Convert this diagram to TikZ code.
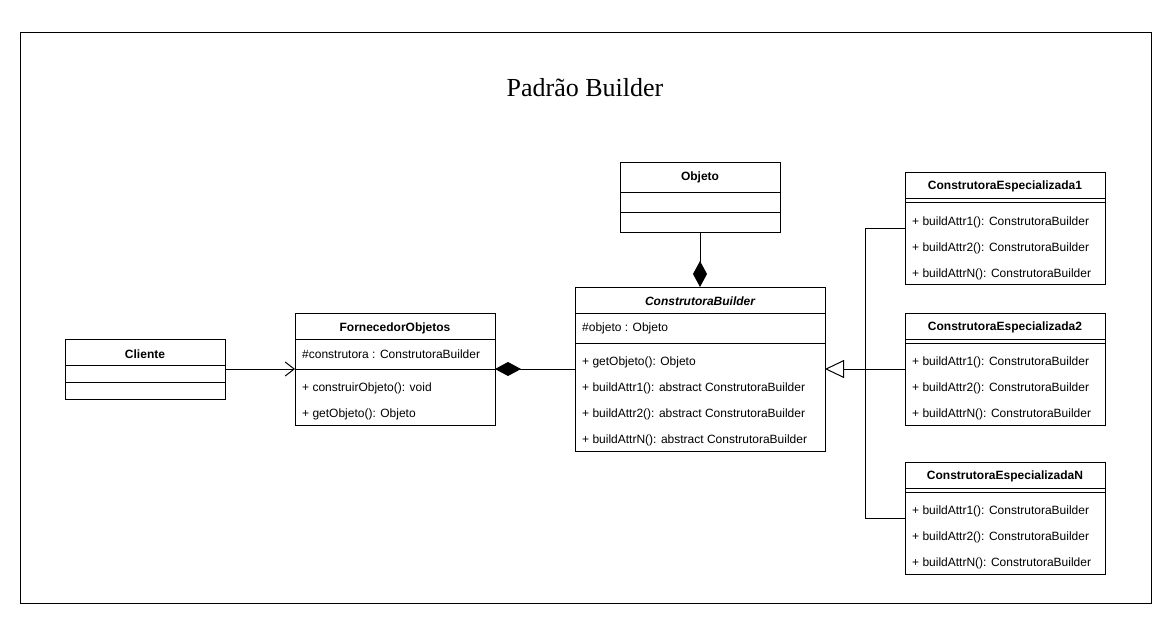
\documentclass[tikz,border=0pt]{standalone}
\usepackage{fontspec}
\setmainfont{Liberation Serif}
\newfontfamily\umlfont{Liberation Sans}
\usetikzlibrary{arrows.meta}
\begin{document}
\begin{tikzpicture}[x=1pt,y=-1pt,
  box/.style={draw, line width=1pt, inner sep=0pt, outer sep=0pt, fill=white},
  sepline/.style={line width=1pt},
  hdr/.style={font=\umlfont\bfseries\fontsize{12}{14}\selectfont, inner sep=0pt, yshift=-1.5pt},
  itm/.style={anchor=west, font=\umlfont\fontsize{12}{14}\selectfont, inner sep=0pt, yshift=-1.5pt},
  conn/.style={line width=1pt},
  comp/.style={conn, -{Diamond[fill=black, length=26pt, width=14pt]}},
  gen/.style={conn, -{Triangle[open, fill=white, length=19pt, width=18pt]}},
  assoc/.style={conn, -{Straight Barb[length=9pt, width=14pt]}}
]
\useasboundingbox (0,0) rectangle (1169,622);
\draw[line width=1pt] (20,32) rectangle (1151,603);
\node[font=\fontsize{26}{30}\selectfont] (title) at (585,88) {Padrão Builder};

% Cliente
\node[box, minimum width=160pt, minimum height=60pt] (cliente) at (145,369) {};
\draw[sepline] (65,365) -- (225,365);
\draw[sepline] (65,382) -- (225,382);
\node[hdr] (clienteh) at (145,353) {Cliente};

% FornecedorObjetos
\node[box, minimum width=200pt, minimum height=112pt] (forn) at (395,369) {};
\draw[sepline] (295,339) -- (495,339);
\draw[sepline] (295,369) -- (495,369);
\node[hdr] (fornh) at (395,327) {FornecedorObjetos};
\node[itm] (forna) at (302,353) {\#construtora : ConstrutoraBuilder};
\node[itm] (fornm1) at (302,387) {+ construirObjeto(): void};
\node[itm] (fornm2) at (302,413) {+ getObjeto(): Objeto};

% Objeto
\node[box, minimum width=160pt, minimum height=70pt] (objeto) at (700,197) {};
\draw[sepline] (620,192) -- (780,192);
\draw[sepline] (620,212) -- (780,212);
\node[hdr] (objetoh) at (700,176) {Objeto};

% ConstrutoraBuilder
\node[box, minimum width=250pt, minimum height=164pt] (cb) at (700,369) {};
\draw[sepline] (575,313) -- (825,313);
\draw[sepline] (575,343) -- (825,343);
\node[hdr, font=\umlfont\bfseries\itshape\fontsize{12}{14}\selectfont] (cbh) at (700,300) {ConstrutoraBuilder};
\node[itm] (cba) at (582,327) {\#objeto : Objeto};
\node[itm] (cbm1) at (582,361) {+ getObjeto(): Objeto};
\node[itm] (cbm2) at (582,387) {+ buildAttr1(): abstract ConstrutoraBuilder};
\node[itm] (cbm3) at (582,413) {+ buildAttr2(): abstract ConstrutoraBuilder};
\node[itm] (cbm4) at (582,439) {+ buildAttrN(): abstract ConstrutoraBuilder};

% ConstrutoraEspecializada1
\node[box, minimum width=200pt, minimum height=112pt] (esp1) at (1005,228) {};
\draw[sepline] (905,198) -- (1105,198);
\draw[sepline] (905,202) -- (1105,202);
\node[hdr] (esp1h) at (1005,185) {ConstrutoraEspecializada1};
\node[itm] (esp1m1) at (912,221) {+ buildAttr1(): ConstrutoraBuilder};
\node[itm] (esp1m2) at (912,247) {+ buildAttr2(): ConstrutoraBuilder};
\node[itm] (esp1m3) at (912,273) {+ buildAttrN(): ConstrutoraBuilder};

% ConstrutoraEspecializada2
\node[box, minimum width=200pt, minimum height=112pt] (esp2) at (1005,369) {};
\draw[sepline] (905,339) -- (1105,339);
\draw[sepline] (905,343) -- (1105,343);
\node[hdr] (esp2h) at (1005,326) {ConstrutoraEspecializada2};
\node[itm] (esp2m1) at (912,361) {+ buildAttr1(): ConstrutoraBuilder};
\node[itm] (esp2m2) at (912,387) {+ buildAttr2(): ConstrutoraBuilder};
\node[itm] (esp2m3) at (912,413) {+ buildAttrN(): ConstrutoraBuilder};

% ConstrutoraEspecializadaN
\node[box, minimum width=200pt, minimum height=112pt] (espN) at (1005,518) {};
\draw[sepline] (905,488) -- (1105,488);
\draw[sepline] (905,492) -- (1105,492);
\node[hdr] (espNh) at (1005,475) {ConstrutoraEspecializadaN};
\node[itm] (espNm1) at (912,510) {+ buildAttr1(): ConstrutoraBuilder};
\node[itm] (espNm2) at (912,536) {+ buildAttr2(): ConstrutoraBuilder};
\node[itm] (espNm3) at (912,562) {+ buildAttrN(): ConstrutoraBuilder};

% connectors
\draw[assoc] (cliente.east) -- (forn.west);
\draw[comp] (cb.west) -- (forn.east);
\draw[comp] (objeto.south) -- (cb.north);
\coordinate (junc) at (865,369);
\draw[gen] (esp2.west) -- (cb.east);
\draw[conn] (esp1.west) -| (junc);
\draw[conn] (espN.west) -| (junc);
\end{tikzpicture}
\end{document}
